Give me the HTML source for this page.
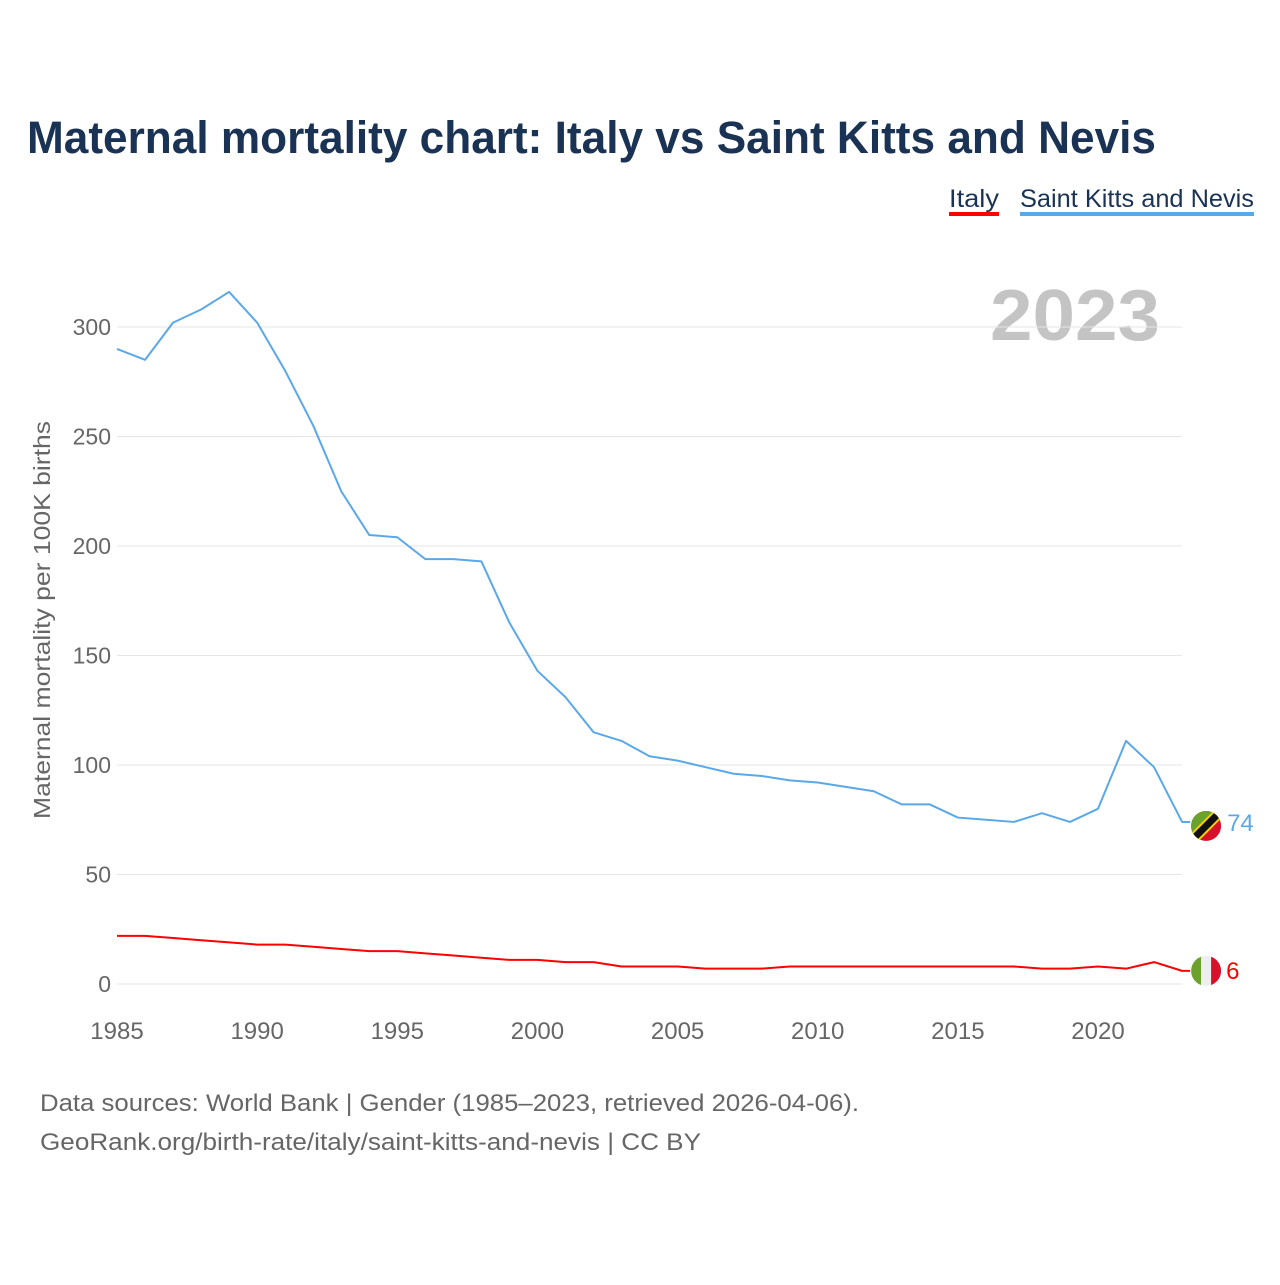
<!DOCTYPE html>
<html><head><meta charset="utf-8">
<style>
html,body{margin:0;padding:0;background:#fff;}
body{width:1280px;height:1280px;overflow:hidden;font-family:"Liberation Sans",sans-serif;}
</style></head>
<body>
<svg id="chart" width="1280" height="1280" xmlns="http://www.w3.org/2000/svg" font-family="Liberation Sans, sans-serif">
<text x="27" y="153" font-size="45" font-weight="bold" fill="#1a3355" textLength="1129" lengthAdjust="spacingAndGlyphs">Maternal mortality chart: Italy vs Saint Kitts and Nevis</text>
<g>
<text x="949" y="207" font-size="25" fill="#1a3355" textLength="50" lengthAdjust="spacingAndGlyphs">Italy</text>
<rect x="949" y="212" width="50" height="4" fill="#ff0000"/>
<text x="1020" y="207" font-size="25" fill="#1a3355" textLength="234" lengthAdjust="spacingAndGlyphs">Saint Kitts and Nevis</text>
<rect x="1020" y="212" width="234" height="4" fill="#5ba8e8"/>
</g>
<text x="1160" y="340" font-size="72" font-weight="bold" fill="#c4c4c4" text-anchor="end" textLength="170" lengthAdjust="spacingAndGlyphs">2023</text>
<text transform="translate(50,620) rotate(-90)" font-size="23" fill="#666" text-anchor="middle" textLength="398" lengthAdjust="spacingAndGlyphs">Maternal mortality per 100K births</text>
<g id="grid"></g><g id="yticks"></g><g id="xticks"></g><g id="lines"></g>
<text x="40" y="1111" font-size="24" fill="#666" textLength="819" lengthAdjust="spacingAndGlyphs">Data sources: World Bank | Gender (1985–2023, retrieved 2026-04-06).</text>
<text x="40" y="1150" font-size="24" fill="#666" textLength="661" lengthAdjust="spacingAndGlyphs">GeoRank.org/birth-rate/italy/saint-kitts-and-nevis | CC BY</text>
</svg>
<script>
const years = [1985,1986,1987,1988,1989,1990,1991,1992,1993,1994,1995,1996,1997,1998,1999,2000,2001,2002,2003,2004,2005,2006,2007,2008,2009,2010,2011,2012,2013,2014,2015,2016,2017,2018,2019,2020,2021,2022,2023];
const sknValues = [290,285,302,308,316,302,280,255,225,205,204,194,194,193,165,143,131,115,111,104,102,99,96,95,93,92,90,88,82,82,76,75,74,78,74,80,111,99,74];
const italyValues = [22,22,21,20,19,18,18,17,16,15,15,14,13,12,11,11,10,10,8,8,8,7,7,7,8,8,8,8,8,8,8,8,8,7,7,8,7,10,6];
const yTicks = [0,50,100,150,200,250,300];
const xTicks = [1985,1990,1995,2000,2005,2010,2015,2020];
const NS='http://www.w3.org/2000/svg';
const X=y=>117+(y-1985)*(1098-117)/35;
const Y=v=>984-v*657/300;
function mk(tag,attrs,parent){const e=document.createElementNS(NS,tag);for(const k in attrs)e.setAttribute(k,attrs[k]);document.getElementById(parent).appendChild(e);return e;}
yTicks.forEach(t=>{
  const l=mk('line',{x1:117,x2:1182,y1:Y(t),y2:Y(t),stroke:'#e6e6e6','stroke-width':1},'grid');
  
  
  const tx=mk('text',{x:111,y:Y(t)+8,'font-size':23,fill:'#666','text-anchor':'end'},'yticks');
  tx.textContent=t;
  
  
});
xTicks.forEach(t=>{
  const tx=mk('text',{x:X(t),y:1039,'font-size':24,fill:'#666','text-anchor':'middle'},'xticks');
  tx.textContent=t;
  
  
});
function line(vals,color,name){
  const pts=vals.map((v,i)=>X(years[i])+','+Y(v));
  pts.push((X(years[years.length-1])+8)+','+Y(vals[vals.length-1]));
  const p=mk('polyline',{points:pts.join(' '),fill:'none',stroke:color,'stroke-width':2,'stroke-linejoin':'round'},'lines');
  
  
}
line(sknValues,'#5ba8e8','skn-line');
line(italyValues,'#ff0000','italy-line');
const g=document.getElementById('lines');
const sv=sknValues[sknValues.length-1], iv=italyValues[italyValues.length-1];
const fx=X(2023)+24;
let fy=Y(sv)+4;
g.insertAdjacentHTML('beforeend',`<g><clipPath id="c1"><circle cx="${fx}" cy="${fy}" r="15"/></clipPath><g clip-path="url(#c1)"><rect x="${fx-15}" y="${fy-15}" width="30" height="30" fill="#d8102a"/><polygon points="${fx-15},${fy-15} ${fx+15},${fy-15} ${fx-15},${fy+15}" fill="#6aa22d"/><line x1="${fx-17}" y1="${fy+17}" x2="${fx+17}" y2="${fy-17}" stroke="#f6d000" stroke-width="11"/><line x1="${fx-17}" y1="${fy+17}" x2="${fx+17}" y2="${fy-17}" stroke="#111" stroke-width="7"/></g></g>`);
g.insertAdjacentHTML('beforeend',`<text x="${fx+21}" y="${fy+5}" font-size="24" fill="#5ba8e8">${sv}</text>`);
fy=Y(iv);
g.insertAdjacentHTML('beforeend',`<g><clipPath id="c2"><circle cx="${fx}" cy="${fy}" r="15"/></clipPath><g clip-path="url(#c2)"><rect x="${fx-15}" y="${fy-15}" width="10" height="30" fill="#6aa22d"/><rect x="${fx-5}" y="${fy-15}" width="10" height="30" fill="#eee"/><rect x="${fx+5}" y="${fy-15}" width="10" height="30" fill="#d8102a"/></g></g>`);
g.insertAdjacentHTML('beforeend',`<text x="${fx+20}" y="${fy+8}" font-size="24" fill="#ff0000">${iv}</text>`);
</script>
</body></html>
